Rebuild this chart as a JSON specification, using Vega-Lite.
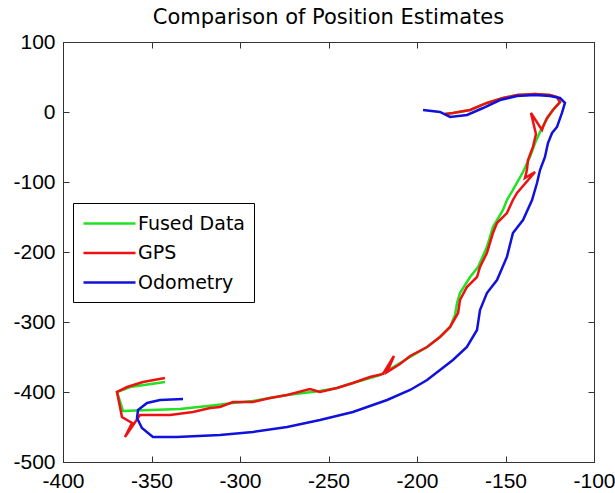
{
"$schema": "https://vega.github.io/schema/vega-lite/v6.json",
"width": 531, "height": 420,
"autosize": "none",
"padding": {"left": 63, "top": 42, "right": 21, "bottom": 31},
"background": "white",
"title": {"text": "Comparison of Position Estimates", "font": "DejaVu Sans", "fontSize": 21, "fontWeight": "normal", "color": "black", "anchor": "middle", "baseline": "alphabetic", "offset": -14},
"data": {"values": [
{"s":"Fused Data","i":0,"x":-184.2,"y":-2.9},{"s":"Fused Data","i":1,"x":-179.7,"y":-1.4},{"s":"Fused Data","i":2,"x":-170.0,"y":2.9},{"s":"Fused Data","i":3,"x":-160.5,"y":12.9},{"s":"Fused Data","i":4,"x":-151.4,"y":20},{"s":"Fused Data","i":5,"x":-143.5,"y":24.3},{"s":"Fused Data","i":6,"x":-133.3,"y":25.7},{"s":"Fused Data","i":7,"x":-124.9,"y":24.3},{"s":"Fused Data","i":8,"x":-120.9,"y":21.4},{"s":"Fused Data","i":9,"x":-119.2,"y":14.3},{"s":"Fused Data","i":10,"x":-123.2,"y":2.9},{"s":"Fused Data","i":11,"x":-126.6,"y":-10},{"s":"Fused Data","i":12,"x":-130.0,"y":-25.7},{"s":"Fused Data","i":13,"x":-133.3,"y":-44.3},{"s":"Fused Data","i":14,"x":-136.2,"y":-64.3},{"s":"Fused Data","i":15,"x":-140.1,"y":-85.7},{"s":"Fused Data","i":16,"x":-145.8,"y":-111.4},{"s":"Fused Data","i":17,"x":-149.2,"y":-125.7},{"s":"Fused Data","i":18,"x":-151.4,"y":-140},{"s":"Fused Data","i":19,"x":-157.1,"y":-164.3},{"s":"Fused Data","i":20,"x":-158.8,"y":-178.6},{"s":"Fused Data","i":21,"x":-160.5,"y":-192.9},{"s":"Fused Data","i":22,"x":-165.5,"y":-221.4},{"s":"Fused Data","i":23,"x":-170.0,"y":-235.7},{"s":"Fused Data","i":24,"x":-175.7,"y":-258.6},{"s":"Fused Data","i":25,"x":-177.4,"y":-272.9},{"s":"Fused Data","i":26,"x":-178.5,"y":-290},{"s":"Fused Data","i":27,"x":-181.3,"y":-307.1},{"s":"Fused Data","i":28,"x":-187.0,"y":-321.4},{"s":"Fused Data","i":29,"x":-194.3,"y":-335.7},{"s":"Fused Data","i":30,"x":-203.9,"y":-350},{"s":"Fused Data","i":31,"x":-212.4,"y":-362.9},{"s":"Fused Data","i":32,"x":-220.9,"y":-375.7},{"s":"Fused Data","i":33,"x":-226.6,"y":-380},{"s":"Fused Data","i":34,"x":-236.2,"y":-387.1},{"s":"Fused Data","i":35,"x":-245.2,"y":-394.3},{"s":"Fused Data","i":36,"x":-254.8,"y":-398.6},{"s":"Fused Data","i":37,"x":-273.4,"y":-404.3},{"s":"Fused Data","i":38,"x":-292.7,"y":-412.9},{"s":"Fused Data","i":39,"x":-304.0,"y":-415.7},{"s":"Fused Data","i":40,"x":-313.0,"y":-418.6},{"s":"Fused Data","i":41,"x":-333.9,"y":-424.3},{"s":"Fused Data","i":42,"x":-350.8,"y":-425.7},{"s":"Fused Data","i":43,"x":-366.1,"y":-427.1},{"s":"Fused Data","i":44,"x":-369.5,"y":-400},{"s":"Fused Data","i":45,"x":-362.1,"y":-392.9},{"s":"Fused Data","i":46,"x":-342.4,"y":-385.7},
{"s":"GPS","i":0,"x":-184.2,"y":-2.9},{"s":"GPS","i":1,"x":-179.7,"y":-1.4},{"s":"GPS","i":2,"x":-170.0,"y":2.9},{"s":"GPS","i":3,"x":-160.5,"y":12.9},{"s":"GPS","i":4,"x":-151.4,"y":20},{"s":"GPS","i":5,"x":-143.5,"y":24.3},{"s":"GPS","i":6,"x":-133.3,"y":25.7},{"s":"GPS","i":7,"x":-124.9,"y":24.3},{"s":"GPS","i":8,"x":-120.9,"y":21.4},{"s":"GPS","i":9,"x":-119.2,"y":14.3},{"s":"GPS","i":10,"x":-123.2,"y":2.9},{"s":"GPS","i":11,"x":-126.6,"y":-8.6},{"s":"GPS","i":12,"x":-128.8,"y":-21.4},{"s":"GPS","i":13,"x":-129.4,"y":-25.7},{"s":"GPS","i":14,"x":-135.6,"y":-1.4},{"s":"GPS","i":15,"x":-132.8,"y":-31.4},{"s":"GPS","i":16,"x":-134.5,"y":-50},{"s":"GPS","i":17,"x":-137.3,"y":-68.6},{"s":"GPS","i":18,"x":-137.9,"y":-82.9},{"s":"GPS","i":19,"x":-139.0,"y":-94.3},{"s":"GPS","i":20,"x":-133.3,"y":-85.7},{"s":"GPS","i":21,"x":-143.5,"y":-115.7},{"s":"GPS","i":22,"x":-145.8,"y":-125.7},{"s":"GPS","i":23,"x":-149.2,"y":-144.3},{"s":"GPS","i":24,"x":-154.8,"y":-158.6},{"s":"GPS","i":25,"x":-157.1,"y":-172.9},{"s":"GPS","i":26,"x":-160.5,"y":-201.4},{"s":"GPS","i":27,"x":-164.4,"y":-221.4},{"s":"GPS","i":28,"x":-166.1,"y":-235.7},{"s":"GPS","i":29,"x":-171.8,"y":-250},{"s":"GPS","i":30,"x":-175.7,"y":-268.6},{"s":"GPS","i":31,"x":-176.8,"y":-287.1},{"s":"GPS","i":32,"x":-181.3,"y":-307.1},{"s":"GPS","i":33,"x":-187.0,"y":-321.4},{"s":"GPS","i":34,"x":-194.3,"y":-335.7},{"s":"GPS","i":35,"x":-203.9,"y":-348.6},{"s":"GPS","i":36,"x":-209.6,"y":-360},{"s":"GPS","i":37,"x":-216.9,"y":-371.4},{"s":"GPS","i":38,"x":-213.0,"y":-348.6},{"s":"GPS","i":39,"x":-219.2,"y":-374.3},{"s":"GPS","i":40,"x":-226.6,"y":-378.6},{"s":"GPS","i":41,"x":-236.2,"y":-387.1},{"s":"GPS","i":42,"x":-245.2,"y":-394.3},{"s":"GPS","i":43,"x":-254.8,"y":-400},{"s":"GPS","i":44,"x":-260.5,"y":-395.7},{"s":"GPS","i":45,"x":-273.4,"y":-404.3},{"s":"GPS","i":46,"x":-283.0,"y":-408.6},{"s":"GPS","i":47,"x":-292.7,"y":-414.3},{"s":"GPS","i":48,"x":-304.0,"y":-414.3},{"s":"GPS","i":49,"x":-311.3,"y":-421.4},{"s":"GPS","i":50,"x":-316.9,"y":-422.9},{"s":"GPS","i":51,"x":-326.6,"y":-428.6},{"s":"GPS","i":52,"x":-339.5,"y":-432.9},{"s":"GPS","i":53,"x":-356.5,"y":-432.9},{"s":"GPS","i":54,"x":-365.0,"y":-464.3},{"s":"GPS","i":55,"x":-361.0,"y":-444.3},{"s":"GPS","i":56,"x":-366.7,"y":-435.7},{"s":"GPS","i":57,"x":-367.8,"y":-421.4},{"s":"GPS","i":58,"x":-369.5,"y":-400},{"s":"GPS","i":59,"x":-363.8,"y":-392.9},{"s":"GPS","i":60,"x":-354.8,"y":-385.7},{"s":"GPS","i":61,"x":-342.4,"y":-380},
{"s":"Odometry","i":0,"x":-196.6,"y":2.9},{"s":"Odometry","i":1,"x":-187.0,"y":0},{"s":"Odometry","i":2,"x":-181.3,"y":-7.1},{"s":"Odometry","i":3,"x":-171.7,"y":-4.3},{"s":"Odometry","i":4,"x":-162.7,"y":5.7},{"s":"Odometry","i":5,"x":-153.1,"y":17.1},{"s":"Odometry","i":6,"x":-143.5,"y":22.9},{"s":"Odometry","i":7,"x":-133.3,"y":24.3},{"s":"Odometry","i":8,"x":-124.9,"y":22.9},{"s":"Odometry","i":9,"x":-119.2,"y":20.0},{"s":"Odometry","i":10,"x":-116.4,"y":12.9},{"s":"Odometry","i":11,"x":-118.1,"y":-1.4},{"s":"Odometry","i":12,"x":-120.9,"y":-21.4},{"s":"Odometry","i":13,"x":-123.7,"y":-30},{"s":"Odometry","i":14,"x":-126.0,"y":-44.3},{"s":"Odometry","i":15,"x":-127.7,"y":-64.3},{"s":"Odometry","i":16,"x":-130.5,"y":-82.9},{"s":"Odometry","i":17,"x":-132.2,"y":-101.4},{"s":"Odometry","i":18,"x":-135.0,"y":-125.7},{"s":"Odometry","i":19,"x":-140.1,"y":-154.3},{"s":"Odometry","i":20,"x":-145.8,"y":-172.9},{"s":"Odometry","i":21,"x":-149.2,"y":-207.1},{"s":"Odometry","i":22,"x":-154.8,"y":-240},{"s":"Odometry","i":23,"x":-160.5,"y":-258.6},{"s":"Odometry","i":24,"x":-164.4,"y":-282.9},{"s":"Odometry","i":25,"x":-166.1,"y":-311.4},{"s":"Odometry","i":26,"x":-171.8,"y":-335.7},{"s":"Odometry","i":27,"x":-179.7,"y":-354.3},{"s":"Odometry","i":28,"x":-187.0,"y":-368.6},{"s":"Odometry","i":29,"x":-194.3,"y":-382.9},{"s":"Odometry","i":30,"x":-203.9,"y":-397.1},{"s":"Odometry","i":31,"x":-216.9,"y":-411.4},{"s":"Odometry","i":32,"x":-236.2,"y":-428.6},{"s":"Odometry","i":33,"x":-254.8,"y":-440},{"s":"Odometry","i":34,"x":-273.4,"y":-450},{"s":"Odometry","i":35,"x":-292.7,"y":-457.1},{"s":"Odometry","i":36,"x":-311.3,"y":-461.4},{"s":"Odometry","i":37,"x":-335.6,"y":-464.3},{"s":"Odometry","i":38,"x":-349.2,"y":-464.3},{"s":"Odometry","i":39,"x":-355.4,"y":-451.4},{"s":"Odometry","i":40,"x":-358.2,"y":-437.1},{"s":"Odometry","i":41,"x":-357.6,"y":-425.7},{"s":"Odometry","i":42,"x":-352.5,"y":-415.7},{"s":"Odometry","i":43,"x":-345.2,"y":-411.4},{"s":"Odometry","i":44,"x":-332.2,"y":-410}
]},
"encoding": {
  "color": {"field": "s", "type": "nominal",
    "scale": {"domain": ["Fused Data", "GPS", "Odometry"], "range": ["#22e022", "#ee1111", "#1111dd"]},
    "legend": {"orient": "none", "legendX": 10, "legendY": 161, "title": null,
      "symbolType": "M-2.6,0H2.6", "symbolSize": 400, "symbolStrokeWidth": 2.5, "symbolOffset": 16,
      "labelOffset": 17, "padding": 9, "rowPadding": 7.5, "labelFontSize": 19, "labelFont": "DejaVu Sans",
      "labelColor": "black", "strokeColor": "black", "fillColor": "white", "cornerRadius": 0}},
  "order": {"field": "i", "type": "quantitative"}
},
"layer": [
  {"transform": [{"filter": "datum.s === 'Fused Data'"}],
   "mark": {"type": "line", "strokeWidth": 2.5},
   "encoding": {
     "x": {"field": "x", "type": "quantitative", "scale": {"domain": [-400, -100], "nice": false, "zero": false},
       "axis": {"orient": "bottom", "values": [-400,-350,-300,-250,-200,-150,-100], "title": null, "labelExpr": "'' + datum.value"}},
     "y": {"field": "y", "type": "quantitative", "scale": {"domain": [-500, 100], "nice": false, "zero": false},
       "axis": {"orient": "left", "values": [-500,-400,-300,-200,-100,0,100], "title": null, "labelExpr": "'' + datum.value"}}
   }},
  {"transform": [{"filter": "datum.s === 'GPS'"}],
   "mark": {"type": "line", "strokeWidth": 2.5},
   "encoding": {
     "x": {"field": "x", "type": "quantitative", "axis": {"orient": "top", "values": [-400,-350,-300,-250,-200,-150,-100], "labels": false, "title": null}},
     "y": {"field": "y", "type": "quantitative", "axis": {"orient": "right", "values": [-500,-400,-300,-200,-100,0,100], "labels": false, "title": null}}
   }},
  {"transform": [{"filter": "datum.s === 'Odometry'"}],
   "mark": {"type": "line", "strokeWidth": 2.5},
   "encoding": {
     "x": {"field": "x", "type": "quantitative", "axis": null},
     "y": {"field": "y", "type": "quantitative", "axis": null}
   }}
],
"resolve": {"axis": {"x": "independent", "y": "independent"}},
"config": {
  "view": {"stroke": "#333", "strokeWidth": 1},
  "axis": {"grid": false, "domain": true, "domainColor": "#333", "tickColor": "#333", "tickSize": -6,
    "labelPadding": 14, "labelFont": "Liberation Sans", "labelFontSize": 21, "labelColor": "black",
    "labelFlush": false, "labelOverlap": false}
}
}
